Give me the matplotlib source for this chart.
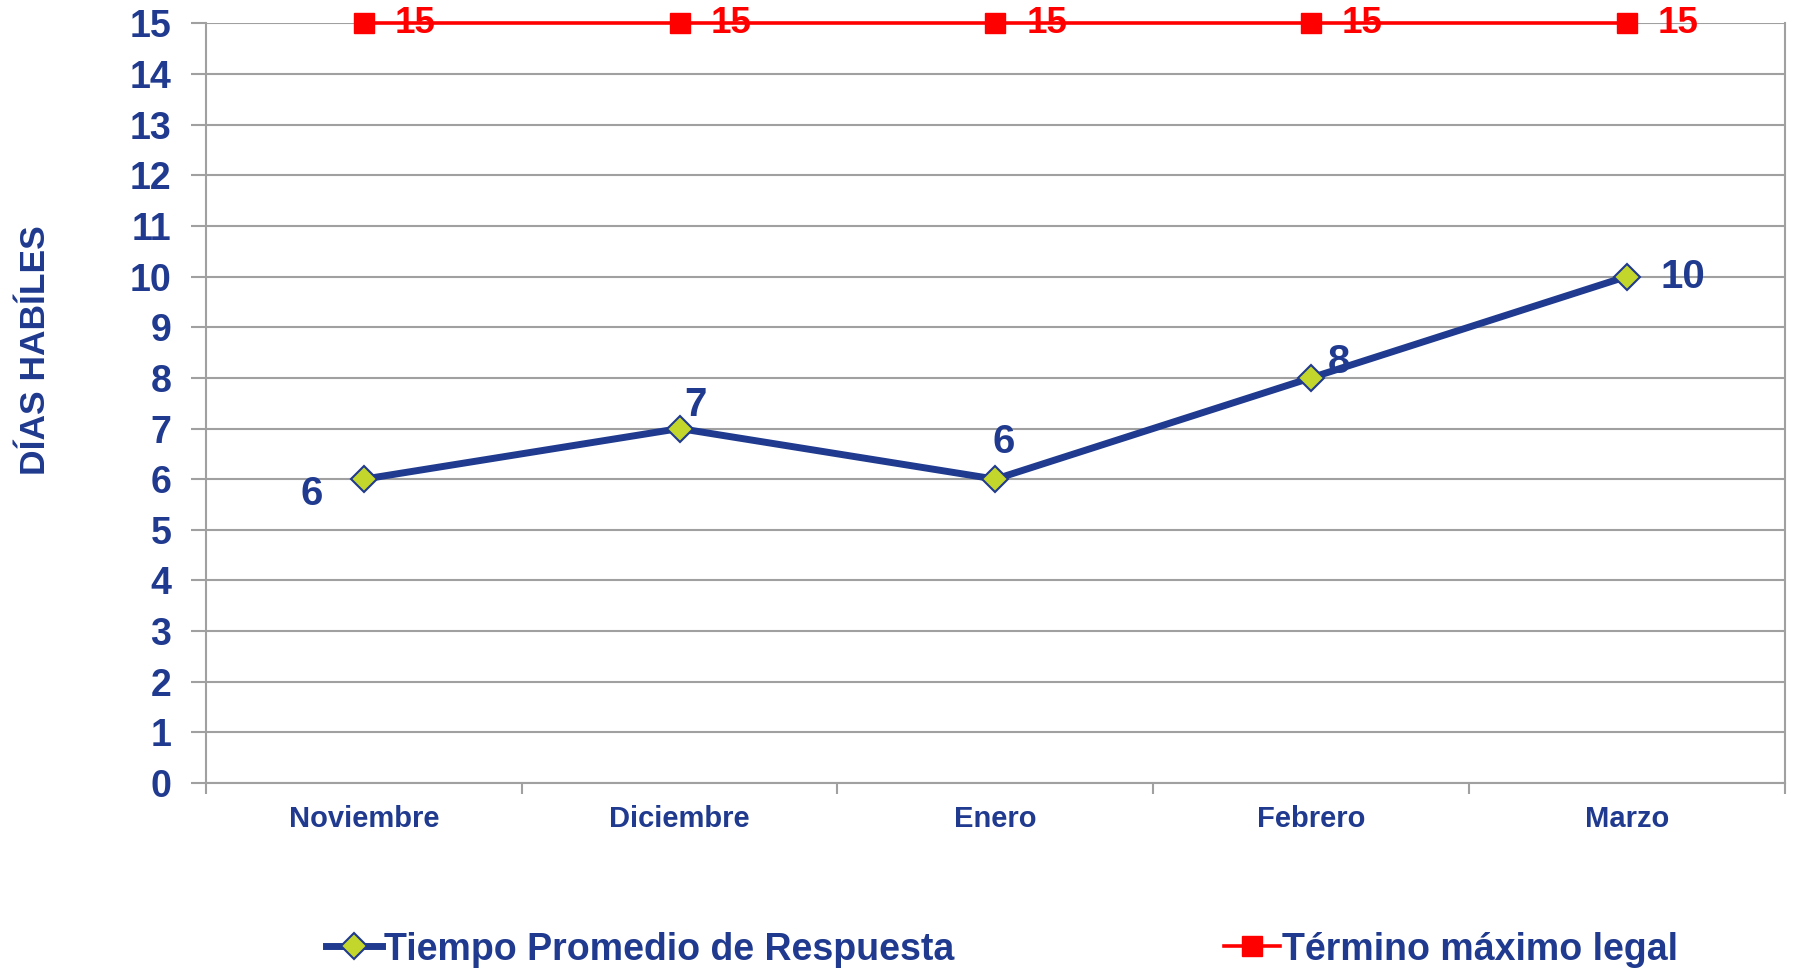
import matplotlib
matplotlib.use("Agg")
import matplotlib.pyplot as plt
from matplotlib.ticker import FixedLocator

months = ["Noviembre", "Diciembre", "Enero", "Febrero", "Marzo"]
tiempo = [6, 7, 6, 8, 10]
termino = [15, 15, 15, 15, 15]
yticks = list(range(0, 16))

BLUE = "#1F3A8E"
GREEN = "#C3D62B"
RED = "#FF0000"
GRID = "#A0A0A0"

plt.rcParams["font.family"] = ["Liberation Sans", "DejaVu Sans"]
plt.rcParams["font.weight"] = "bold"

fig = plt.figure(figsize=(17.99, 9.68), dpi=100)
ax = fig.add_axes([0.1145, 0.191, 0.8775, 0.785])

x = list(range(len(months)))
ax.plot(x, termino, color=RED, lw=2.6, marker="s", markersize=15,
        markerfacecolor=RED, markeredgecolor=RED, label="Término máximo legal",
        zorder=3, clip_on=False)
ax.plot(x, tiempo, color=BLUE, lw=5, marker="D", markersize=13,
        markerfacecolor=GREEN, markeredgecolor=BLUE, markeredgewidth=1.5,
        label="Tiempo Promedio de Respuesta", zorder=4)

offsets = [(-52, -15), (16, 24), (8, 37), (28, 16), (56, 0)]
for xi, v, (dx, dy) in zip(x, tiempo, offsets):
    ax.annotate(str(v), (xi, v), xytext=(dx, dy), textcoords="offset pixels",
                ha="center", va="center", fontsize=29, fontweight="bold",
                color=BLUE, zorder=5)
for xi, v in zip(x, termino):
    ax.annotate(str(v), (xi, v), xytext=(31, 0), textcoords="offset pixels",
                ha="left", va="center", fontsize=26.5, fontweight="bold",
                color=RED, zorder=5, annotation_clip=False)

ax.set_xlim(-0.5, len(months) - 0.5)
ax.set_ylim(0, 15)
ax.set_yticks(yticks)
ax.set_yticklabels([str(t) for t in yticks], fontsize=27, fontweight="bold", color=BLUE)
ax.set_xticks(x)
ax.set_xticklabels(months, fontsize=21, fontweight="bold", color=BLUE)
ax.xaxis.set_minor_locator(FixedLocator([i - 0.5 for i in range(len(months) + 1)]))
ax.tick_params(axis="x", which="major", length=0, pad=16)
ax.tick_params(axis="x", which="minor", length=8, width=1.5, color=GRID, direction="out")
ax.tick_params(axis="y", length=11, width=1.5, color=GRID, pad=14)

ax.grid(axis="y", color=GRID, lw=1.5, zorder=0)
ax.set_axisbelow(True)
for s in ["left", "right", "bottom"]:
    ax.spines[s].set_color(GRID)
    ax.spines[s].set_linewidth(1.5)
ax.spines["top"].set_visible(False)

fig.text(0.020, 0.638, "DÍAS HABÍLES", rotation=90, ha="center", va="center",
         fontsize=25.5, fontweight="bold", color=BLUE)

handles, labels = ax.get_legend_handles_labels()
leg = fig.legend(handles[::-1], labels[::-1], loc="center", bbox_to_anchor=(0.557, 0.019),
                 ncol=2, frameon=False, fontsize=27, handlelength=1.5,
                 handletextpad=0.05, columnspacing=7.2)
for t in leg.get_texts():
    t.set_color(BLUE)
    t.set_fontweight("bold")

fig.savefig("out.png", dpi=100)
